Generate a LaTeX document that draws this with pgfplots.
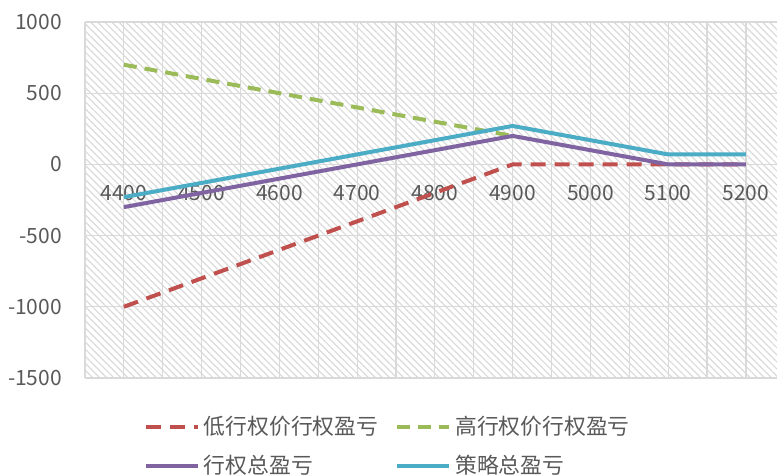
\documentclass[border=0pt]{standalone}
\usepackage{fontspec}
\setmainfont{Noto Sans CJK SC}
\usepackage{pgfplots}
\pgfplotsset{compat=1.18}
\usetikzlibrary{patterns.meta}
\definecolor{cred}{HTML}{C0504D}
\definecolor{cgreen}{HTML}{9BBB59}
\definecolor{cpurple}{HTML}{8064A2}
\definecolor{ccyan}{HTML}{4BACC6}
\definecolor{gridc}{HTML}{D9D9D9}
\definecolor{hatch}{HTML}{DADADA}
\definecolor{labc}{HTML}{595959}
\begin{document}
\begin{tikzpicture}
\begin{axis}[
  scale only axis, width=346pt, height=178pt,
  xmin=-0.5, xmax=8.4, ymin=-1500, ymax=1000,
  xtick={0,...,8},
  xticklabels={4400,4500,4600,4700,4800,4900,5000,5100,5200},
  minor xtick={-0.5,0.5,1.5,2.5,3.5,4.5,5.5,6.5,7.5,8.5},
  ytick={-1500,-1000,-500,0,500,1000},
  grid=both,
  major grid style={draw=gridc, line width=0.6pt},
  minor grid style={draw=gridc, line width=0.6pt},
  axis line style={draw=none},
  major tick length=0pt, minor tick length=0pt,
  axis background/.style={pattern={Lines[angle=-45, distance=2.5pt, line width=0.6pt]}, pattern color=hatch},
  tick label style={font=\fontsize{10.5}{12}\selectfont, text=labc},
  /pgf/number format/assume math mode=true,
  /pgf/number format/1000 sep={},
  yticklabel style={xshift=-8pt},
  xticklabel style={anchor=center, yshift=92.5pt},
  legend columns=2,
  legend cell align=left,
  legend style={at={(0.439,-0.083)}, anchor=north, draw=none, fill=none,
    font=\fontsize{10.9}{13}\selectfont, text=labc,
    /tikz/every even column/.append style={column sep=6.5pt},
    row sep=5pt},
  legend image code/.code={\draw[#1] (0pt,0pt) -- (26pt,0pt);},
]
\addplot[cred, line width=2pt, dash pattern=on 7.5pt off 4.5pt] coordinates {
 (0,-1000) (1,-800) (2,-600) (3,-400) (4,-200) (5,0) (6,0) (7,0) (8,0)};
\addlegendentry{低行权价行权盈亏}
\addplot[cgreen, line width=2pt, dash pattern=on 6.5pt off 4pt] coordinates {
 (0,700) (1,600) (2,500) (3,400) (4,300) (5,200)};
\addlegendentry{高行权价行权盈亏}
\addplot[cpurple, line width=2pt] coordinates {
 (0,-300) (1,-200) (2,-100) (3,0) (4,100) (5,200) (6,100) (7,0) (8,0)};
\addlegendentry{行权总盈亏}
\addplot[ccyan, line width=2pt] coordinates {
 (0,-230) (1,-130) (2,-30) (3,70) (4,170) (5,270) (6,170) (7,70) (8,70)};
\addlegendentry{策略总盈亏}
\coordinate (BL) at (rel axis cs:0,0);
\coordinate (TR) at (rel axis cs:1,1);
\end{axis}
\pgfresetboundingbox
\path[use as bounding box] ([xshift=-42.5pt,yshift=-49pt]BL) rectangle ([yshift=11pt]TR);
\end{tikzpicture}
\end{document}
